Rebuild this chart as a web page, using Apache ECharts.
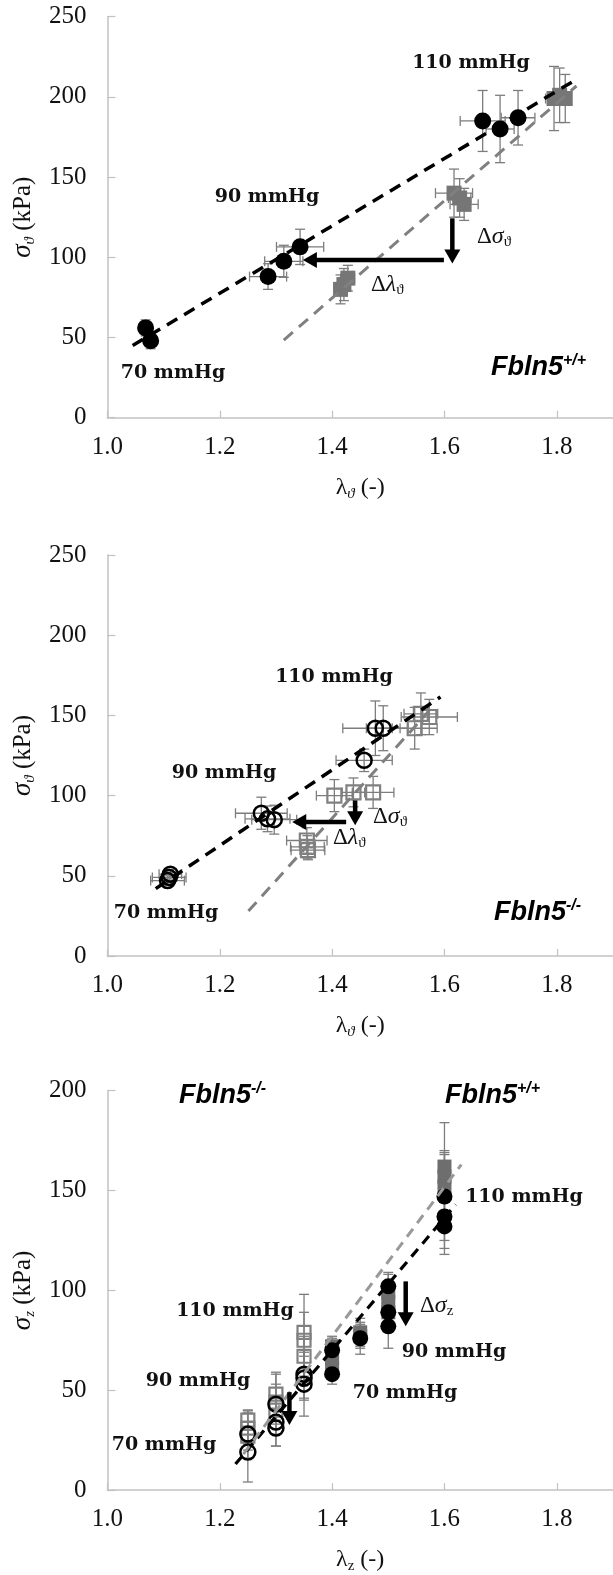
<!DOCTYPE html>
<html><head><meta charset="utf-8">
<script src="https://cdn.jsdelivr.net/npm/echarts@6/dist/echarts.min.js"></script>
<style>html,body{margin:0;padding:0;background:#fff}#c{width:613px;height:1575px}</style>
</head><body><div id="c"></div>
<script>
// ---------- tick labels ----------
const xTicks = [1.0, 1.2, 1.4, 1.6, 1.8];
const yTicksTheta = [0, 50, 100, 150, 200, 250];
const yTicksZ = [0, 50, 100, 150, 200];

// ---------- Panel A: circumferential, Fbln5+/+ ----------
const aCircles = [[1.068,56],[1.077,48],[1.286,88],[1.314,97.5],[1.343,106.5],[1.668,185],[1.699,180],[1.731,187]];
const aCirclesErrX = [0.005,0.005,0.033,0.034,0.042,0.04,0.025,0.03];
const aCirclesErrY = [5,5,8,10,11,19,21,17];
const aSquares = [[1.415,80],[1.421,83],[1.428,87],[1.617,140],[1.627,137],[1.635,133],[1.795,199],[1.805,201],[1.815,199]];
const aSquaresErrX = [0.01,0.01,0.012,0.033,0.02,0.025,0.015,0.012,0.01];
const aSquaresErrY = [9,10,8,15,12,10,20,17,15];
const aFitBlack = [[1.045,45],[1.828,209.5]];
const aFitGray = [[1.314,48.4],[1.835,206.8]];
const aArrows = [[1.599,98.3,1.348,98.3],[1.614,124.3,1.614,96.2]];

// ---------- Panel B: circumferential, Fbln5-/- ----------
const bCircles = [[1.107,47],[1.110,49],[1.112,51],[1.274,89],[1.285,85.5],[1.297,85],[1.457,122],[1.477,142],[1.491,142]];
const bCirclesErrX = [0.03,0.03,0.02,0.046,0.04,0.04,0.05,0.058,0.03];
const bCirclesErrY = [3,3,3,10,8,9,7,17,14];
const bSquares = [[1.355,72],[1.356,68],[1.357,66],[1.404,100],[1.438,102],[1.473,102],[1.547,142],[1.558,151],[1.573,149]];
const bSquaresErrX = [0.036,0.03,0.03,0.032,0.02,0.037,0.04,0.03,0.05];
const bSquaresErrY = [8,7,6,10,9,10,13,13,11];
const bFitBlack = [[1.086,42],[1.593,161.5]];
const bFitGray = [[1.251,28],[1.573,153]];
const bArrows = [[1.425,83.5,1.329,83.5],[1.441,97,1.441,81.5]];

// ---------- Panel C: axial, both genotypes ----------
const cFilledCircles = [[1.4,70],[1.4,58],[1.45,76],[1.5,102],[1.5,89],[1.5,82],[1.6,147],[1.6,137],[1.6,132]];
const cFilledCirclesErr = [6,5,8,7,9,11,22,16,14];
const cFilledSquares = [[1.4,72],[1.4,66],[1.4,61],[1.45,79],[1.45,77],[1.5,99],[1.5,94],[1.5,89],[1.6,162],[1.6,157],[1.6,152]];
const cFilledSquaresErr = [5,4,5,7,6,9,8,10,22,13,16];
const cOpenCircles = [[1.25,28],[1.25,19],[1.3,43],[1.3,34],[1.3,31],[1.35,58],[1.35,56],[1.35,53]];
const cOpenCirclesErr = [12,15,15,12,9,12,11,16];
const cOpenSquares = [[1.25,35],[1.25,31],[1.25,27],[1.3,48],[1.3,44],[1.3,40],[1.35,79],[1.35,75],[1.35,67]];
const cOpenSquaresErr = [5,8,7,11,9,7,19,14,10];
const cFitBlack = [[1.228,13],[1.62,143]];
const cFitGray = [[1.242,18],[1.63,163]];
const cArrows = [[1.531,104.5,1.531,82],[1.324,49,1.324,32.5]];

// ---------- styles ----------
const AXIS_GRAY = '#c2c2c2';
const ERR_GRAY = '#7d7d7d';
const MARK_GRAY = '#767676';
const SERIF = '"Liberation Serif","Times New Roman",serif';
const SANS = '"Liberation Sans",Arial,sans-serif';
const BOLDSERIF = '"DejaVu Serif",serif';

const grids = [
  {left:101, top:16.7, width:516, height:401},
  {left:101, top:555, width:516, height:401},
  {left:101, top:1090.7, width:516, height:401}
];

function xAxis(i, name, subItalic) {
  return {
    gridIndex:i, type:'value', min:xTicks[0], max:1.9, interval:0.2,
    name:name, nameLocation:'middle', nameGap:56,
    nameTextStyle:{fontFamily:SERIF, fontSize:24, color:'#111', lineHeight:28,
      rich:{s:{fontFamily:SERIF, fontSize:15, fontStyle: subItalic?'italic':'normal', color:'#111', verticalAlign:'bottom', lineHeight:12}}},
    axisLine:{lineStyle:{color:AXIS_GRAY, width:1.5}},
    axisTick:{inside:true, length:7, lineStyle:{color:AXIS_GRAY, width:1.2}},
    axisLabel:{showMaxLabel:false, margin:17, fontFamily:SERIF, fontSize:25, color:'#111',
      formatter:v => v.toFixed(1)},
    splitLine:{show:false}
  };
}
function yAxis(i, ticks, name) {
  return {
    gridIndex:i, type:'value', min:ticks[0], max:ticks[ticks.length-1], interval:ticks[1]-ticks[0],
    name:name, nameLocation:'middle', nameGap:66, nameRotate:90,
    nameTextStyle:{fontFamily:SERIF, fontSize:25, color:'#111', lineHeight:30,
      rich:{i:{fontFamily:SERIF, fontSize:27, fontStyle:'italic', color:'#111', lineHeight:30},
            s:{fontFamily:SERIF, fontSize:15, fontStyle:'italic', color:'#111', verticalAlign:'bottom', lineHeight:12}}},
    axisLine:{show:true, lineStyle:{color:AXIS_GRAY, width:1.5}},
    axisTick:{show:true, inside:true, length:8, lineStyle:{color:AXIS_GRAY, width:1.2}},
    axisLabel:{margin:21, fontFamily:SERIF, fontSize:25, color:'#111'},
    splitLine:{show:false}
  };
}

function errRender(params, api) {
  const x = api.value(0), y = api.value(1), ex = api.value(2), ey = api.value(3);
  const c = api.coord([x, y]);
  const st = {stroke:ERR_GRAY, lineWidth:1.3};
  const cap = 5;
  const ch = [];
  if (ey > 0) {
    const t = api.coord([x, y + ey]), b = api.coord([x, y - ey]);
    ch.push({type:'line', shape:{x1:c[0], y1:t[1], x2:c[0], y2:b[1]}, style:st});
    ch.push({type:'line', shape:{x1:c[0]-cap, y1:t[1], x2:c[0]+cap, y2:t[1]}, style:st});
    ch.push({type:'line', shape:{x1:c[0]-cap, y1:b[1], x2:c[0]+cap, y2:b[1]}, style:st});
  }
  if (ex > 0) {
    const l = api.coord([x - ex, y]), r = api.coord([x + ex, y]);
    ch.push({type:'line', shape:{x1:l[0], y1:c[1], x2:r[0], y2:c[1]}, style:st});
    ch.push({type:'line', shape:{x1:l[0], y1:c[1]-cap, x2:l[0], y2:c[1]+cap}, style:st});
    ch.push({type:'line', shape:{x1:r[0], y1:c[1]-cap, x2:r[0], y2:c[1]+cap}, style:st});
  }
  return {type:'group', children:ch};
}
function errSeries(i, pts, ex, ey) {
  return {type:'custom', xAxisIndex:i, yAxisIndex:i, renderItem:errRender, silent:true, z:1,
    encode:{x:0, y:1},
    data: pts.map((p, k) => [p[0], p[1], ex ? ex[k] : 0, ey[k]])};
}
function arrowRender(params, api) {
  const p1 = api.coord([api.value(0), api.value(1)]);
  const p2 = api.coord([api.value(2), api.value(3)]);
  const dx = p2[0]-p1[0], dy = p2[1]-p1[1], L = Math.hypot(dx, dy);
  const ux = dx/L, uy = dy/L, hl = 14, hw = 8;
  const bx = p2[0]-ux*hl, by = p2[1]-uy*hl;
  return {type:'group', children:[
    {type:'line', shape:{x1:p1[0], y1:p1[1], x2:bx+ux, y2:by+uy}, style:{stroke:'#000', lineWidth:4.5}},
    {type:'polygon', shape:{points:[[p2[0],p2[1]],[bx-uy*hw, by+ux*hw],[bx+uy*hw, by-ux*hw]]}, style:{fill:'#000'}}
  ]};
}
function arrowSeries(i, arr) {
  return {type:'custom', xAxisIndex:i, yAxisIndex:i, renderItem:arrowRender, silent:true, z:6,
    encode:{x:[0,2], y:[1,3]}, data:arr};
}
function fitSeries(i, pts, color, width, dash) {
  return {type:'line', xAxisIndex:i, yAxisIndex:i, data:pts, symbol:'none', silent:true, z:5,
    lineStyle:{color:color, width:width, type:dash}};
}
function scatter(i, pts, symbol, size, fill, border, bw, z) {
  return {type:'scatter', xAxisIndex:i, yAxisIndex:i, data:pts, symbol:symbol, symbolSize:size, silent:true, z:z||3,
    itemStyle:{color:fill, borderColor:border, borderWidth:bw, opacity:1}};
}

const series = [
  // panel A
  errSeries(0, aSquares, aSquaresErrX, aSquaresErrY),
  errSeries(0, aCircles, aCirclesErrX, aCirclesErrY),
  scatter(0, aSquares, 'rect', 15, MARK_GRAY, MARK_GRAY, 0),
  scatter(0, aCircles, 'circle', 17, '#000', '#000', 0, 4),
  fitSeries(0, aFitBlack, '#000', 3.5, [12,8]),
  fitSeries(0, aFitGray, '#808080', 3, [12,8]),
  arrowSeries(0, aArrows),
  // panel B
  errSeries(1, bSquares, bSquaresErrX, bSquaresErrY),
  errSeries(1, bCircles, bCirclesErrX, bCirclesErrY),
  scatter(1, bSquares, 'rect', 14, 'rgba(0,0,0,0)', '#808080', 2.2),
  scatter(1, bCircles, 'circle', 15, 'rgba(0,0,0,0)', '#000', 2.5, 4),
  fitSeries(1, bFitBlack, '#000', 3.5, [12,8]),
  fitSeries(1, bFitGray, '#808080', 3, [12,8]),
  arrowSeries(1, bArrows),
  // panel C
  errSeries(2, cFilledSquares, null, cFilledSquaresErr),
  errSeries(2, cOpenSquares, null, cOpenSquaresErr),
  errSeries(2, cFilledCircles, null, cFilledCirclesErr),
  errSeries(2, cOpenCircles, null, cOpenCirclesErr),
  scatter(2, cFilledSquares, 'rect', 14, '#6e6e6e', '#6e6e6e', 0),
  scatter(2, cOpenSquares, 'rect', 13, 'rgba(0,0,0,0)', '#808080', 2.2),
  scatter(2, cFilledCircles, 'circle', 16, '#000', '#000', 0, 4),
  scatter(2, cOpenCircles, 'circle', 15, 'rgba(0,0,0,0)', '#000', 2.5, 4),
  fitSeries(2, cFitBlack, '#000', 3.2, [10,7]),
  fitSeries(2, cFitGray, '#999', 3, [10,7]),
  arrowSeries(2, cArrows)
];

// ---------- annotations ----------
function mmHg(x, y, text) {
  return {type:'text', x:x, y:y, silent:true, z:10, style:{text:text, fontFamily:BOLDSERIF, fontWeight:'bold', fontSize:19,
    fill:'#111', align:'center', verticalAlign:'middle', textAlign:'center', textVerticalAlign:'middle'}};
}
function geno(x, y, sup) {
  return {type:'text', x:x, y:y, silent:true, z:10, style:{text:'{m|Fbln5}{s|' + sup + '}', align:'left', verticalAlign:'middle',
    textAlign:'left', textVerticalAlign:'middle',
    rich:{m:{fontFamily:SANS, fontWeight:'bold', fontStyle:'italic', fontSize:27, lineHeight:30, fill:'#000'},
          s:{fontFamily:SANS, fontWeight:'bold', fontStyle:'italic', fontSize:16, lineHeight:14, verticalAlign:'top', fill:'#000'}}}};
}
function delta(x, y, greek, sub) {
  return {type:'text', x:x, y:y, silent:true, z:10, style:{text:'{n|Δ}{i|' + greek + '}{s|' + sub + '}', align:'left', verticalAlign:'middle',
    textAlign:'left', textVerticalAlign:'middle',
    rich:{n:{fontFamily:SERIF, fontSize:23, lineHeight:26, fill:'#111'},
          i:{fontFamily:SERIF, fontStyle:'italic', fontSize:24, lineHeight:26, fill:'#111'},
          s:{fontFamily:SERIF, fontSize:15, lineHeight:12, verticalAlign:'bottom', fill:'#111'}}}};
}

const graphics = [
  mmHg(471, 63, '110 mmHg'), mmHg(267, 197, '90 mmHg'), mmHg(173, 373, '70 mmHg'),
  geno(491, 368, '+/+'), delta(477, 237, 'σ', 'ϑ'), delta(371, 285, 'λ', 'ϑ'),
  mmHg(334, 677, '110 mmHg'), mmHg(224, 773, '90 mmHg'), mmHg(166, 913, '70 mmHg'),
  geno(494, 913, '-/-'), delta(373, 817, 'σ', 'ϑ'), delta(333, 838, 'λ', 'ϑ'),
  geno(179, 1096, '-/-'), geno(445, 1096, '+/+'),
  mmHg(524, 1197, '110 mmHg'), mmHg(454, 1352, '90 mmHg'), mmHg(405, 1393, '70 mmHg'),
  mmHg(235, 1311, '110 mmHg'), mmHg(198, 1381, '90 mmHg'), mmHg(164, 1445, '70 mmHg'),
  delta(420, 1306, 'σ', 'z')
];

const chart = echarts.init(document.getElementById('c'), null, {renderer:'canvas'});
chart.setOption({
  animation:false,
  backgroundColor:'#fff',
  grid:grids,
  xAxis:[xAxis(0, 'λ{s|ϑ} (-)', true), xAxis(1, 'λ{s|ϑ} (-)', true), xAxis(2, 'λ{s|z} (-)', false)],
  yAxis:[yAxis(0, yTicksTheta, '{i|σ}{s|ϑ} (kPa)'), yAxis(1, yTicksTheta, '{i|σ}{s|ϑ} (kPa)'), yAxis(2, yTicksZ, '{i|σ}{s|z} (kPa)')],
  series:series,
  graphic:graphics
});
</script></body></html>
